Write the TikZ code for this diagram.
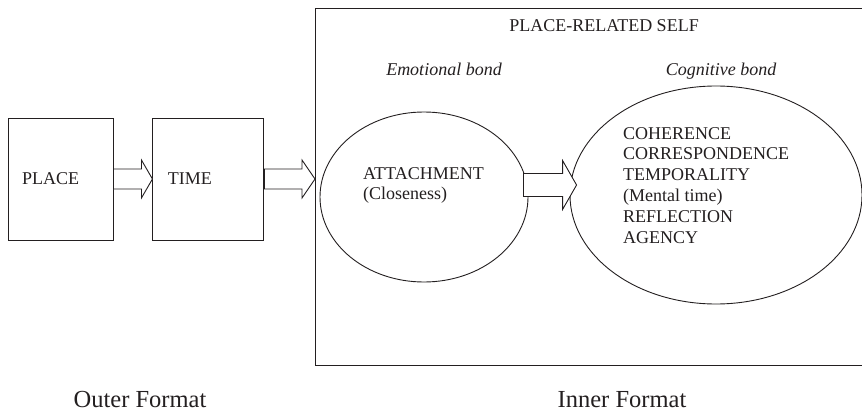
\documentclass[tikz,border=0pt]{standalone}
\usepackage{fontspec}
\setmainfont{Liberation Serif}
\usepackage{tikz}
\usetikzlibrary{
  calc,
  positioning,
  shapes.geometric,
}
\definecolor{ink}{RGB}{35, 31, 32}
\tikzstyle{boxframe} = [
  draw=ink,
  line width=0.9pt,
  inner sep=0pt,
]
\tikzstyle{txt} = [
  text=ink,
  font=\fontsize{18}{20.8}\selectfont,
  inner sep=0pt,
]
\tikzset{
  fat arrow/.style n args={3}{
    draw=ink,
    fill=white,
    line width=0.9pt,
    to path={
      let \p1=(\tikztostart), \p2=(\tikztotarget) in
      (\x1,\y1+#1) -- (\x2-#3,\y1+#1) -- (\x2-#3,\y1+#2)
      -- (\x2,\y1) -- (\x2-#3,\y1-#2) -- (\x2-#3,\y1-#1)
      -- (\x1,\y1-#1) -- cycle
    },
  },
}

\begin{document}
\begin{tikzpicture}[x=1pt, y=-1pt]
        \useasboundingbox (0,0) rectangle (862,412);

        % outer format
        \node [boxframe, txt, minimum height=122pt, text width=77pt,
               inner xsep=14pt, align=left] (place) at (60.5,179) {PLACE};
        \node [boxframe, txt, minimum height=122pt, text width=81pt,
               inner xsep=15pt, align=left, right=39pt of place] (time) {TIME};

        % inner format
        \node [boxframe, anchor=north west, minimum width=560pt,
               minimum height=357pt] (self) at (315,8) {};
        \node [txt] (title) at (604,26) {PLACE-RELATED SELF};
        \node [txt, anchor=base] (emo) at (444,76) {\itshape Emotional bond};
        \node [txt, anchor=base] (cog) at (721,76) {\itshape Cognitive bond};

        \node [boxframe, ellipse, minimum width=208pt, minimum height=170pt]
              (attach) at (424,197) {};
        \node [boxframe, ellipse, minimum width=292pt, minimum height=218pt]
              (cogn) at (716,195) {};

        \node [txt, align=left, anchor=north west] (attachtxt) at (363,167)
              {ATTACHMENT\\(Closeness)};
        \node [txt, align=left, anchor=north west] (cogntxt) at (623,127)
              {COHERENCE\\CORRESPONDENCE\\TEMPORALITY\\(Mental time)\\REFLECTION\\AGENCY};

        \draw [fat arrow={10pt}{19pt}{11pt}] (place.east) to (time.west);
        \draw [fat arrow={10pt}{19pt}{13pt}] (time.east) to (self.west |- time.east);
        \draw [fat arrow={11.5pt}{24.5pt}{14pt}]
              ([shift={(-5,-12)}]attach.east) to ([xshift=7pt]cogn.west);

        \node [txt, anchor=base, font=\fontsize{24.5}{28}\selectfont]
              (outer) at (140,407) {Outer Format};
        \node [txt, anchor=base, font=\fontsize{24.5}{28}\selectfont]
              (inner) at (622,407) {Inner Format};
      \end{tikzpicture}
\end{document}
